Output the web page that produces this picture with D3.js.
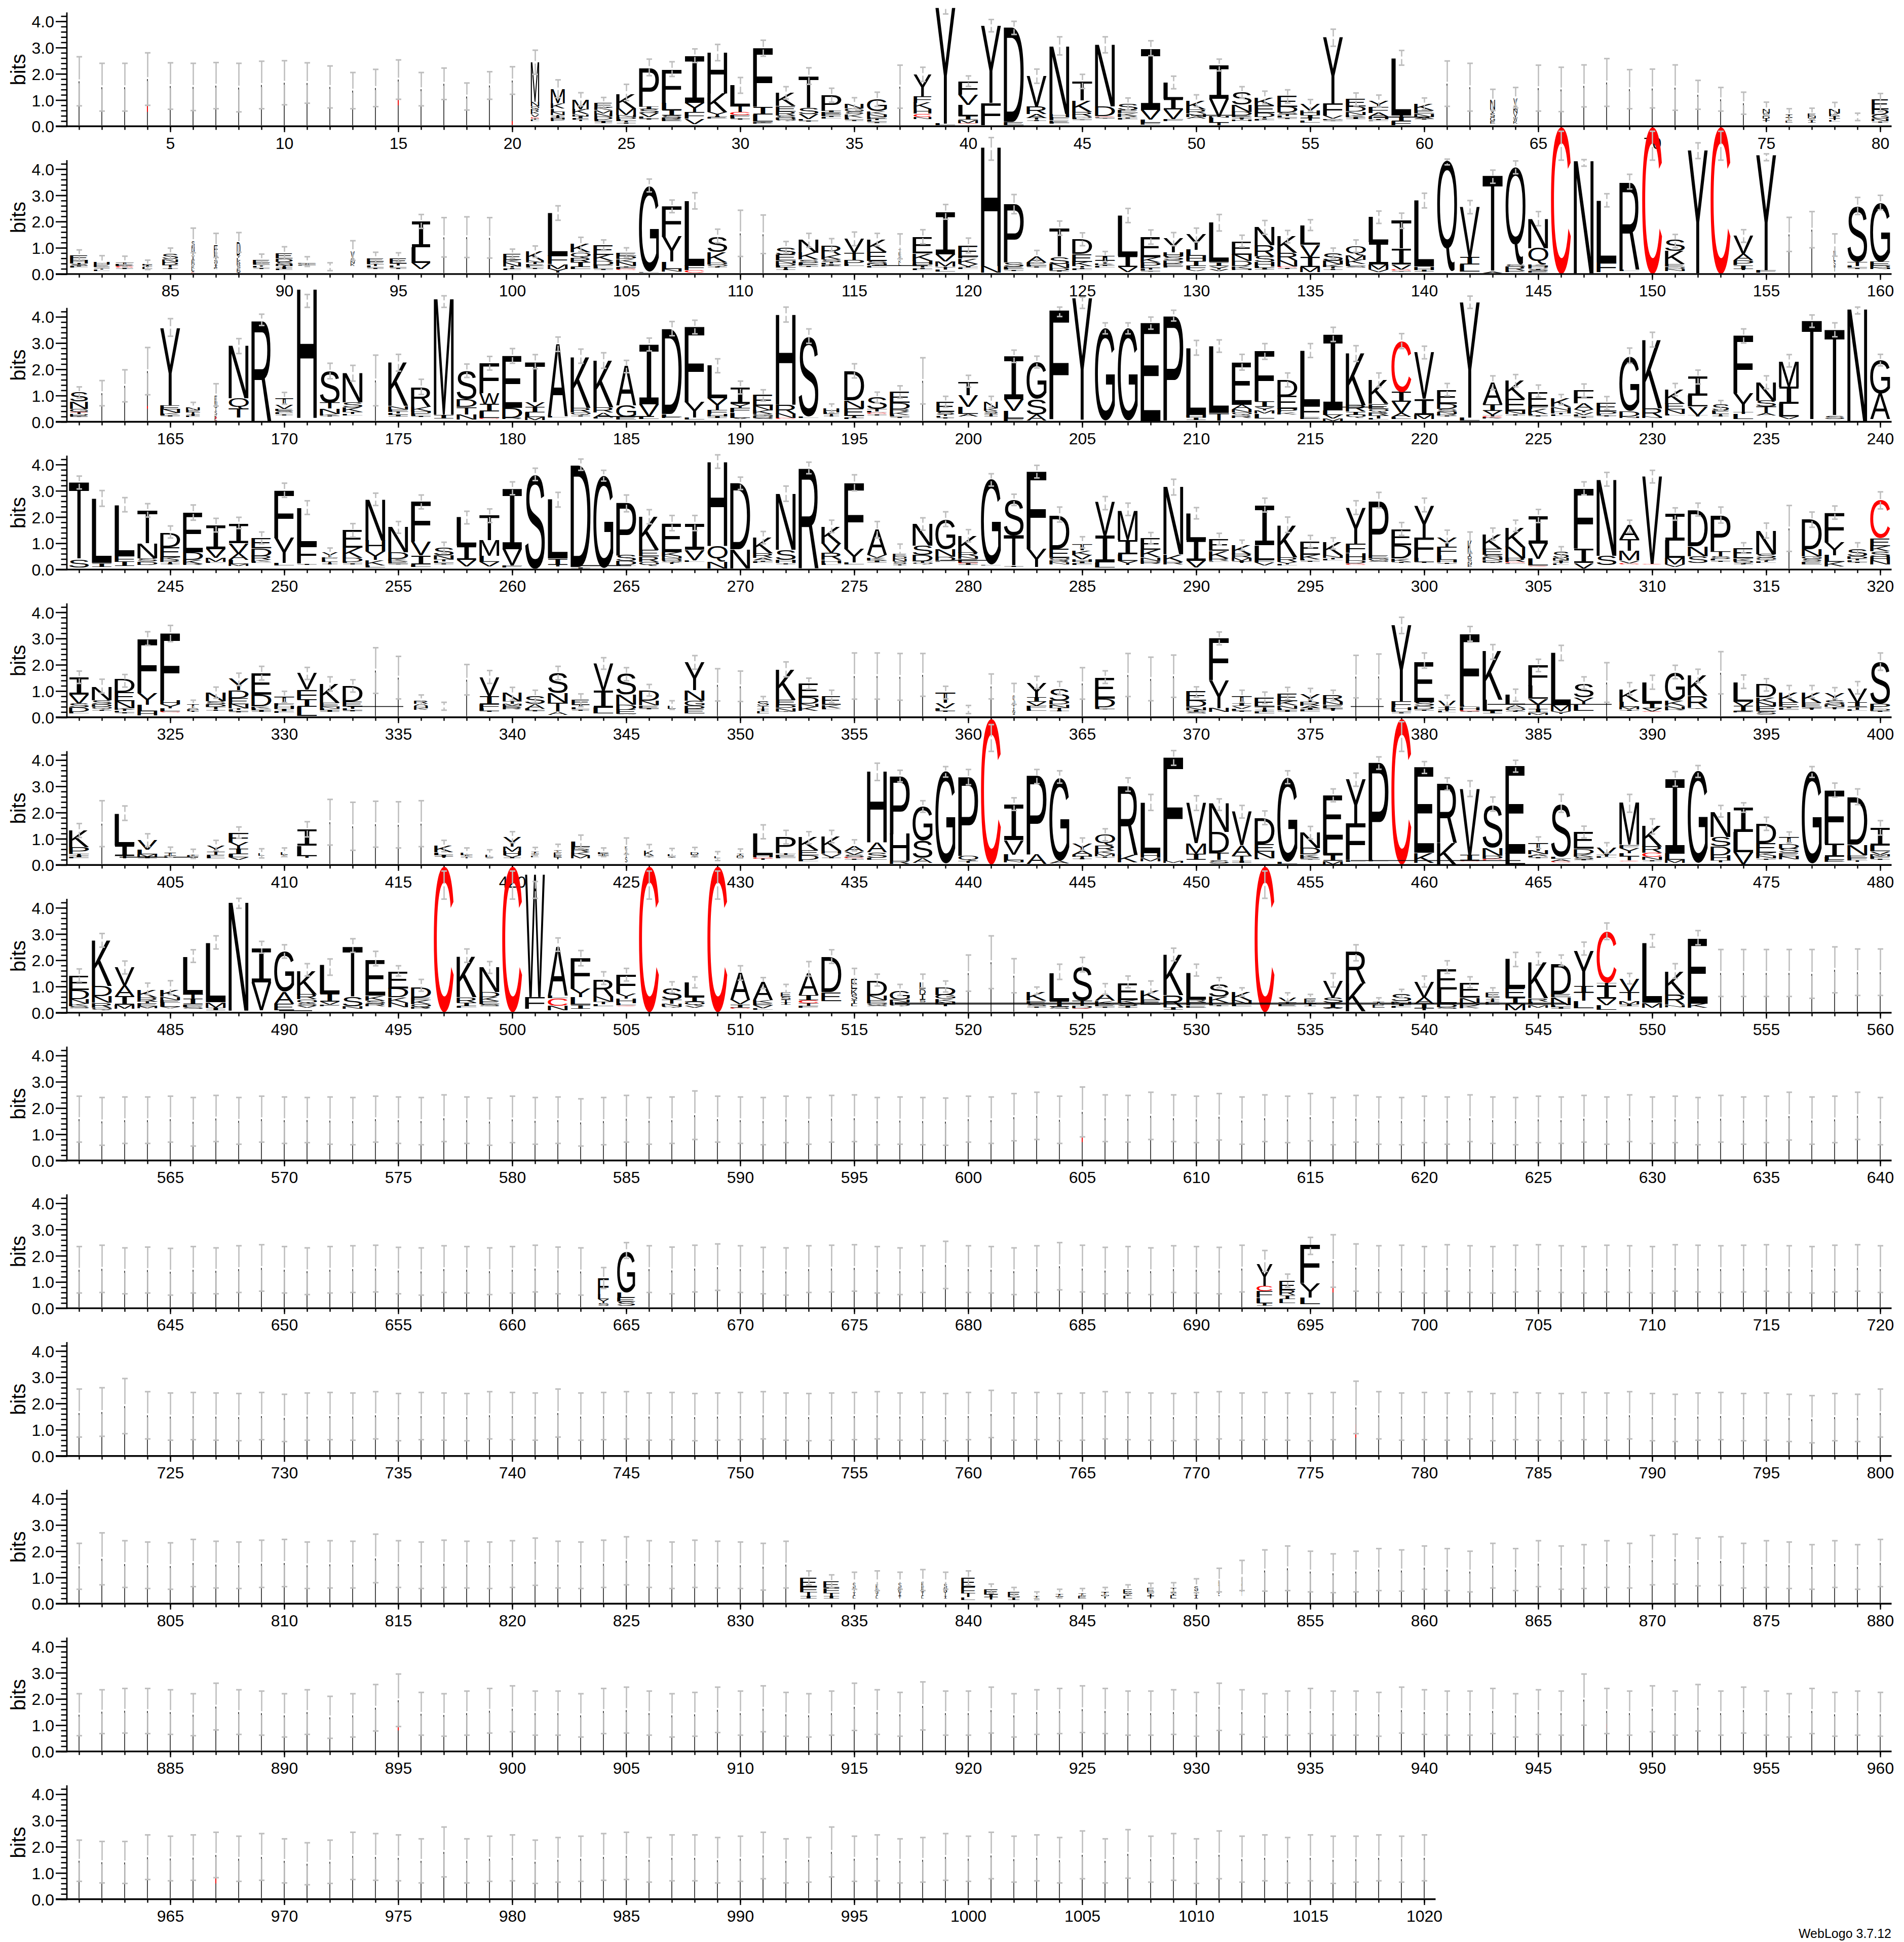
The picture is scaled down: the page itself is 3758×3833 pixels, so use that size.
<!DOCTYPE html>
<html><head><meta charset="utf-8">
<style>html,body{margin:0;padding:0;background:#fff}svg{display:block}</style>
<script src="https://cdn.jsdelivr.net/npm/d3@7"></script>
</head><body><div id="chart"></div>
<script>
// Columns: [position, errorLow, errorHigh, "letters bottom to top with bits", widthFraction]
// "_" is the hidden part of a stack (tiny letters that do not show).
const thinA = [[1,.78,2.65],[2,.58,2.4],[3,.58,2.4],[4,.8,2.8],[5,.65,2.42],[6,.6,2.4],[7,.67,2.43],[8,.55,2.4],[9,.67,2.48],[10,.82,2.5],[11,.88,2.42],[12,.7,2.3],[13,.67,2.05],[14,.75,2.17],[15,1.03,2.53],[16,.78,2.05],[17,1.02,2.22],[18,.62,1.65],[19,1.03,2.08],[20,1.22,2.27],
[37,.69,2.33],[61,.76,2.49],[62,.58,2.4],[65,.58,2.33],[66,.56,2.25],[67,.74,2.34],[68,.76,2.58],[69,.67,2.16],[70,.7,2.18],[71,.61,2.34],[72,.65,1.75],[73,.58,1.48],[74,.46,1.3],
[97,.65,2.15],[98,.63,2.18],[99,.61,2.15],[110,.67,2.43],[111,.78,2.25],[156,.86,2.16],[157,1,2.38],[162,.61,1.57],[163,.76,1.98],[164,1.03,2.83],[174,.61,2.54],[198,.68,2.44],[316,.69,2.44],
[334,.91,2.65],[335,.7,2.32],[338,.85,2.01],[349,.62,1.85],[350,.6,1.76],[355,.69,2.45],[356,.69,2.45],[357,.65,2.43],[358,.8,2.43],[361,.7,1.65],[365,.69,1.89],[367,.79,2.43],[368,.63,2.29],[369,.76,2.37],[377,.74,2.36],[378,.7,2.41],[388,.57,2.08],[393,.89,2.5],
[402,.7,2.45],[412,.76,2.5],[413,.56,2.39],[414,.68,2.43],[415,.65,2.41],[416,.7,2.45],[520,.82,2.2],[521,.92,2.93],[522,.76,2.06]];

const row1Cols = [
[21,1.98,2.9,"_.2 L.05 I.05 C.06 V.1 K.1 R.1 Q.1 N.18 M1.5",.42],
[22,1.09,1.77,"_.2 F.06 H.06 I.06 T.05 N.12 L.13 K.2 M.55",.7],
[23,.78,1.28,"_.2 T.05 L.05 I.08 N.08 K.19 M.38",.82],
[24,.7,1.1,"_.13 I.06 L.06 D.12 N.12 M.13 K.1 E.18",.91],
[25,.98,1.6,"_.1 I.05 T.05 L.08 D.08 N.08 M.24 K.54",1],
[26,1.93,2.56,"_.25 I.04 L.07 V.15 S.15 I.1 P1.47",1],
[27,1.9,2.46,"_.2 E.06 R.06 S.1 I.2 L.28 F1.27",1],
[28,2.43,2.95,"_.09 V.2 F.25 Y.35 I1.78",1],
[29,2.5,3.12,"_.3 E.05 I.05 Y.14 K.72 H1.55",1],
[30,1.26,1.86,"_.25 I.05 L.05 F.07 C.12 T.23 L.78",1],
[31,2.67,3.28,"_.1 E.05 I.03 L.27 I.28 F2.23",1],
[32,1.04,1.51,"_.2 Q.05 D.07 S.1 R.15 E.2 K.5",1],
[33,1.6,2.23,"_.18 I.04 L.05 V.2 S.22 T1.2",1],
[34,.92,1.45,"_.3 L.05 I.05 F.06 E.06 I.07 P.6",1],
[35,.67,1.09,"_.2 I.05 L.08 K.13 S.1 G.12 N.17",.95],
[36,.76,1.3,"_.13 I.04 L.06 T.05 E.07 N.1 K.12 G.46",1],
[38,1.71,2.25,"_.27 N.08 C.13 H.18 K.24 F.24 Y.84",.9],
[39,4.28,4.76,"_.04 L.06 Y4.42",1],
[40,1.52,1.92,"_.1 C.02 M.13 I.15 L.42 V.39 F.5",1],
[41,3.6,4.07,"_.04 F.85 Y2.95",1],
[42,3.5,4,"_.05 E.12 D3.6",1],
[43,1.64,2.18,"_.2 I.05 T.07 A.14 R.3 V1.16",1],
[44,2.72,3.41,"_.1 L.05 E.08 F.12 H.12 N2.58",1],
[45,1.44,1.98,"_.24 I.03 L.05 D.05 R.18 K.43 T.73",1],
[46,2.8,3.41,"_.3 I.03 L.03 C.03 D.36 N2.35",1],
[47,.63,1.08,"_.25 L.05 I.05 R.05 K.1 E.12 S.23",1],
[48,2.69,3.26,"_.07 F.08 L.11 V.37 I2.32",1],
[49,1.43,1.91,"_.2 F.08 V.37 I.4 L.61",1],
[50,.74,1.2,"_.3 A.06 N.13 R.15 K.32",1],
[51,2.11,2.56,"_.05 T.09 L.2 N.04 V.67 I1.28",1],
[52,1.07,1.51,"_.2 H.05 T.05 I.05 E.06 D.14 N.28 S.48",1],
[53,.85,1.34,"_.22 L.04 I.05 T.05 D.14 E.3 K.3",1],
[54,.89,1.39,"_.28 I.05 L.06 T.06 S.08 D.21 E.42",1],
[55,.56,1.02,"_.14 L.08 T.1 I.12 H.16 V.24",1],
[56,3.05,3.7,"_.2 I.03 L.03 D.03 V.13 F.46 Y2.51",1],
[57,.78,1.27,"_.28 I.07 K.08 N.13 D.2 E.29",1],
[58,.74,1.19,"_.2 L.03 I.04 H.1 A.14 F.21 Y.25",1],
[59,2.33,2.89,"_.05 F.15 I.17 T.05 L2.18",1],
[60,.63,1.08,"_.25 I.05 A.05 N.13 E.13 K.25",1],
[63,.6,1.41,"_.1 E.1 G.15 S.15 V.15 N.38",.24],
[64,.7,1.48,"_.1 K.1 W.15 V.15 N.15 I.15 V.28",.2],
[75,.42,.92,"_.15 T.06 I.08 D.1 S.1 N.18",.35],
[76,.22,.67,"_.15 L.08 T.1 I.12",.35],
[77,.26,.69,"_.15 I.08 T.08 N.08 E.1",.4],
[78,.42,.91,"_.18 L.05 T.06 I.1 K.1 N.18",.55],
[79,.22,.5,"_.36",.2],
[80,.56,1.25,"_.15 I.05 N.1 G.15 D.2 E.4",.85]];

const row2Cols = [
[81,.5,.92,"_.25 L.04 I.04 S.04 T.04 H.11 E.2",.9],
[82,.23,.7,"_.12 L.05 T.05 I.04 E.1 H.1",.8],
[83,.27,.68,"_.2 I.05 C.05 E.07 T.08",.9],
[84,.17,.53,"_.2 L.06 I.06 F.04",.5],
[85,.56,.99,"_.2 I.04 T.1 D.1 L.03 N.1 S.2",.8],
[86,.81,1.75,"_.02 C.05 I.05 L.1 K.1 D.1 E.1 A.1 V.1 T.14 N.2 S.2",.15],
[87,.63,1.55,"_.2 K.05 I.1 V.1 S.1 T.1 E.15 F.3",.18],
[88,.83,1.58,"I.06 D.06 E.1 S.1 R.1 K.1 L.1 Y.1 D.49",.18],
[89,.35,.76,"_.2 I.04 L.05 T.07 F.07 E.13",.85],
[90,.56,1.04,"_.15 L.04 I.06 T.06 N.06 S.1 D.12 E.2",.85],
[91,.29,.66,"_.32 L.03 I.03 T.03 E.03",.9],
[92,.13,.43,"_.27",.1],
[93,.52,1.27,"_.3 K.1 N.1 S.1 V.26",.2],
[94,.43,.83,"_.2 I.05 L.06 T.07 F.1 E.13",.85],
[95,.45,.81,"_.2 I.05 L.08 T.08 E.19",.85],
[96,1.74,2.27,"_.2 V.22 L.6 I.98",.95],
[100,.59,.95,"_.15 L.04 I.05 T.05 N.15 K.1 E.22",.9],
[101,.63,1.07,"_.2 I.05 L.05 E.08 T.06 N.07 K.34",.9],
[102,2.05,2.6,"_.05 Y.15 M.18 F.32 L1.62",1],
[103,.86,1.4,"_.2 L.07 I.18 R.17 Q.2 K.33",1],
[104,.9,1.3,"_.16 I.05 L.07 F.07 D.15 K.24 E.36",1],
[105,.63,1,"_.15 C.04 F.06 I.05 N.15 K.12 D.12 E.12",1],
[106,3.13,3.62,"_.05 L.03 G3.25",1],
[107,2.34,2.82,"_.1 N.1 L.28 Y.95 F1.16",1],
[108,2.48,3.1,"_.05 C.1 F.16 L2.46",1],
[109,1.19,1.71,"_.25 I.05 Q.07 D.07 K.4 S.6",1],
[112,.79,1.24,"_.15 I.04 T.06 L.06 D.1 N.1 E.22 S.27",1],
[113,1.02,1.55,"_.27 I.05 E.05 L.06 S.12 K.26 N.5",1],
[114,.86,1.35,"_.28 E.04 I.04 L.05 T.05 S.1 K.18 R.36",1],
[115,1.08,1.6,"_.3 L.07 P.16 T.27 V.53",1],
[116,1.08,1.55,"_.25 L.05 I.05 N.05 S.1 E.34 K.47",1],
[117,.58,1.53,"_.3 C.03 L.1 K.1 V.1 S.1 E.1 T.11",.12],
[118,1.15,1.69,"_.15 L.05 I.05 T.05 F.06 H.14 K.28 E.62",1],
[119,2.09,2.65,"_.1 L.08 T.1 M.2 V.28 I1.6",1],
[120,.81,1.37,"_.2 L.04 I.05 V.1 K.2 F.07 E.42",1],
[121,4.34,5.2,"_.05 N.25 H4.53",1],
[122,2.3,3.03,"_.12 I.05 L.05 E.06 S.16 P2.23",1],
[123,.45,.9,"_.25 I.04 L.04 E.12 A.23",1],
[124,1.48,2.02,"_.1 I.04 D.09 N.16 S.26 T1.08",1],
[125,1.08,1.57,"_.15 L.05 I.05 T.05 K.17 E.3 D.56",1],
[126,.47,.86,"_.25 L.05 I.05 K.05 T.12 I.16",1],
[127,1.96,2.5,"_.07 V.2 I.42 L1.54",1],
[128,1.14,1.68,"_.1 I.03 L.04 T.05 F.05 P.17 K.2 E.76",1],
[129,1.08,1.58,"_.25 F.05 E.1 D.13 S.15 H.14 Y.53",1],
[130,1.22,1.75,"_.12 V.05 F.14 I.19 H.19 L.24 Y.58",1],
[131,1.64,2.27,"_.12 V.06 Y.13 I.15 L1.5",1],
[132,1.03,1.48,"_.15 H.05 K.1 D.2 N.24 E.5",1],
[133,1.51,2.04,"_.17 I.06 L.06 H.16 S.22 R.42 N.69",1],
[134,1.19,1.66,"_.2 I.05 C.04 N.23 R.29 K.63",1],
[135,1.66,2.07,"_.07 M.2 I.37 V.47 L.74",1],
[136,.58,.99,"_.15 I.05 T.06 K.1 N.14 S.31",1],
[137,.83,1.3,"_.25 S.05 L.08 K.16 M.18 Q.36",1],
[138,1.93,2.4,"_.07 V.1 M.2 I.85 L.96",1],
[139,1.74,2.32,"_.1 I.03 C.05 V.18 I.6 T1.07",1],
[140,2.52,3.08,"_.1 I.06 H.12 L2.53",1],
[141,4.16,4.38,"_.1 Q4.2",1],
[142,2.3,2.8,"_.1 L.27 I.28 V1.91",1],
[143,3.46,3.96,"_.03 A.05 T3.67",1],
[144,3.82,4.31,"_.08 E.05 R.14 S.1 Q3.7",1],
[145,1.84,2.38,"_.06 E.05 S.05 I.05 D.05 H.05 K.05 Q.62 N1.12",1],
[146,4.34,5.44,"C5.6",1],
[147,4.11,4.36,"_.03 N4.28",1],
[148,2.56,3.06,"_.07 F.38 L2.35",1],
[149,3.24,3.8,"_.12 L.05 R3.35",1],
[150,4.34,5.44,"C5.6",1],
[151,1,1.51,"_.12 N.08 D.08 E.1 K.5 S.43",1],
[152,4.4,5,"_.03 Y4.69",1],
[153,4.34,5.44,"C5.6",1],
[154,1.21,1.69,"_.15 T.05 I.14 P.18 A.25 V.68",1],
[155,4.32,4.58,"_.05 F.1 Y4.39",1],
[158,.68,1.53,"_.1 T.2 S.2 L.2 N.2",.1],
[159,2.27,2.92,"_.2 I.05 L.06 T.15 S2.13",1],
[160,2.45,3,"_.2 N.04 D.08 E.15 G2.25",1]];

const row3Cols = [
[161,.9,1.33,"_.18 I.03 E.04 D.05 T.06 C.02 G.12 N.27 S.36",.9],
[165,3.26,3.93,"_.2 I.04 L.04 K.05 N.14 E.15 Y2.95",1],
[166,.4,.74,"_.18 L.05 I.06 T.06 E.09 N.11",.7],
[167,.6,1.45,"_.02 C.03 L.1 K.1 S.15 T.15 N.2 E.25",.12],
[168,2.6,3.17,"_.15 T.34 Q.41 N2.0",1],
[169,3.67,4.1,"_.01 R3.88",1],
[170,.67,1.12,"_.25 I.05 L.05 S.06 E.08 V.15 T.25",.9],
[171,4.36,4.85,"_.15 H4.9",1],
[172,1.64,2.23,"_.2 I.05 K.05 N.2 T.23 S1.2",1],
[173,1.55,2.15,"_.25 L.05 T.07 K.17 S.2 N1.11",1],
[175,1.93,2.57,"_.2 I.06 L.06 T.06 F.1 N.12 K1.65",1],
[176,1.04,1.62,"_.18 I.05 L.05 E.05 H.06 K.18 R.76",1],
[177,4.36,4.8,"_.12 I.15 M4.41",1],
[178,1.69,2.2,"_.08 N.2 T.28 D.3 S1.07",1],
[179,1.97,2.49,"_.1 C.04 L.25 I.28 W.42 F1.13",1],
[180,2.23,2.79,"_.1 R.04 D.4 E1.98",1],
[181,2.02,2.56,"_.07 M.12 L.17 I.2 V.18 T1.53",1],
[182,2.68,3.23,"_.16 L.05 A2.74",1],
[183,2.23,2.77,"_.2 I.05 Q.1 R.18 K1.92",1],
[184,2.04,2.63,"_.12 L.05 A.18 R.2 K1.78",1],
[185,1.87,2.34,"_.08 E.1 G.45 A1.5",1],
[186,2.7,3.19,"_.1 L.1 V.47 I2.28",1],
[187,3.28,3.82,"_.15 E.04 L.1 D3.24",1],
[188,3.35,3.87,"_.08 L.08 Y.58 F2.86",1],
[189,1.87,2.4,"_.14 I.06 H.1 F.15 Y.45 L1.25",1],
[190,1.06,1.55,"_.1 V.05 L.2 F.18 Y.15 I.62",1],
[191,.79,1.22,"_.1 S.05 D.08 G.07 K.14 N.17 E.42",1],
[192,3.8,4.37,"_.1 C.04 N.16 R.35 H3.43",1],
[193,2.99,3.54,"_.15 L.05 S3.06",1],
[194,.35,.68,"_.2 I.05 T.05 L.06 H.14",.8],
[195,1.67,2.21,"_.1 L.04 I.04 T.04 E.3 N.3 D1.11",1],
[196,.72,1.13,"_.25 I.05 C.05 L.04 T.1 S.45",1],
[197,.9,1.37,"_.15 I.05 L.06 K.12 R.1 D.24 E.42",1],
[199,.55,.97,"_.12 I.05 L.05 T.05 S.1 E.4",.9],
[200,1.32,1.77,"_.2 A.1 L.27 V.43 T.51",1],
[201,.54,.97,"_.2 I.06 T.05 S.1 K.1 N.25",.7],
[202,2.26,2.73,"_.02 F.1 L.3 V.43 I1.64",1],
[203,2.05,2.5,"_.05 A.23 S.6 G1.4",1],
[204,4.01,4.37,"_.1 F4.15",1],
[205,4.32,4.75,"_.08 Y4.64",1],
[206,3.35,3.77,"_.05 G3.52",1],
[207,3.35,3.77,"_.05 G3.52",1],
[208,3.53,3.99,"_.03 E3.74",1],
[209,3.84,4.25,"_.05 P3.97",1],
[210,2.54,3.1,"_.07 I.1 H.1 L2.54",1],
[211,2.65,3.12,"_.05 T.28 L2.55",1],
[212,1.97,2.57,"_.15 R.1 Q.1 N.13 A.17 E1.6",1],
[213,2.38,2.98,"_.13 L.18 M.12 Y.13 I.22 F1.9",1],
[214,1.33,1.86,"_.28 K.08 P.14 E.48 D.62",1],
[215,2.45,2.98,"_.1 E.06 F.47 L2.07",1],
[216,3.06,3.6,"_.03 M.1 V.14 L.16 I2.88",1],
[217,2.3,2.9,"_.15 Q.12 I.12 R.24 K1.97",1],
[218,1.33,1.86,"_.08 L.05 T.12 R.12 Q.13 E.18 K.92",1],
[219,2.79,3.36,"_.1 L.08 A.15 V.43 I.37 C1.93",1],
[220,2.4,2.88,"_.1 M.17 I.6 V1.77",1],
[221,.99,1.46,"_.2 I.05 R.05 N.07 S.12 D.2 E.52",1],
[222,4.32,4.79,"_.05 L.11 Y4.4",1],
[223,1.22,1.75,"_.12 K.05 C.04 T.05 V.16 I.25 A.83",1],
[224,1.33,1.8,"_.25 I.05 N.12 E.46 K.68",1],
[225,.94,1.4,"_.2 I.04 L.05 K.2 F.1 E.55",1],
[226,.65,1.04,"_.22 L.05 T.05 H.11 N.13 K.32",1],
[227,.94,1.44,"_.15 I.05 L.06 V.1 Y.12 A.22 F.5",1],
[228,.47,.96,"_.2 I.05 L.05 D.1 E.31",1],
[229,2.23,2.81,"_.15 N.05 D.2 G2.07",1],
[230,2.85,3.41,"_.15 N.04 R.33 K2.6",1],
[231,.99,1.46,"_.25 L.05 N.17 E.21 K.54",1],
[232,1.44,1.97,"_.2 T.05 V.33 L.42 I.73",1],
[233,.43,.81,"_.2 I.04 T.05 L.07 F.08 S.23",.85],
[234,3,3.54,"_.1 L.2 T.08 Y.72 F2.2",1],
[235,1.26,1.75,"_.24 A.1 T.24 S.23 N.7",1],
[236,2.09,2.56,"_.1 V.1 L.48 I.65 M.97",1],
[237,3.6,4.07,"_.05 T3.8",1],
[238,3.24,3.77,"_.1 S.12 T3.29",1],
[239,4.11,4.37,"_.03 N4.26",1],
[240,2.13,2.57,"_.1 A.98 G1.26",1]];

const row4Cols = [
[241,3.07,3.56,"_.08 S.3 T2.94",1],
[242,2.41,3.01,"_.1 I.15 L2.44",1],
[243,2.2,2.74,"_.13 I.17 F.22 L1.94",1],
[244,2,2.51,"_.18 D.12 S.12 N.57 T1.25",1],
[245,1.2,1.66,"_.2 I.04 T.05 R.07 K.1 E.4 D.55",1],
[246,1.88,2.46,"_.18 R.04 K.14 D.3 E1.51",1],
[247,1.43,1.95,"_.25 L.05 M.14 V.34 I.9",1],
[248,1.56,1.99,"_.14 M.08 L.14 A.24 V.4 I.74",1],
[249,.98,1.43,"_.25 L.05 K.07 R.14 D.3 E.4",1],
[250,2.75,3.29,"_.15 L.1 Y.95 F1.8",1],
[251,2.1,2.62,"_.18 I.05 F.7 L1.4",1],
[252,.44,.82,"_.2 I.04 T.05 L.07 F.1 Y.2",.8],
[253,1.23,1.75,"_.2 I.05 L.05 D.14 K.4 E.66",1],
[254,2.44,2.91,"_.08 L.08 K.2 Y.33 H.42 N1.56",1],
[255,1.38,1.83,"_.2 I.03 E.08 K.1 D.25 N.97",1],
[256,2.31,2.84,"_.1 L.1 I.34 V.52 F1.52",1],
[257,.62,1.04,"_.2 I.05 L.06 T.08 N.15 S.3",1],
[258,1.74,2.22,"_.12 V.24 I.55 L1.08",1],
[259,1.79,2.31,"_.12 V.18 L.22 M.58 T.96",1],
[260,2.85,3.34,"_.07 F.08 V.63 I2.3",1],
[261,3.39,3.86,"_.03 S3.62",1],
[262,2.38,2.94,"_.12 T.06 I.24 L2.25",1],
[263,3.78,4.21,"_.05 I.05 D3.87",1],
[264,3.37,3.78,"_.05 G3.5",1],
[265,2.2,2.84,"_.13 L.05 D.15 S.22 P2.0",1],
[266,1.74,2.28,"_.15 Q.15 R.2 E.25 K1.27",1],
[267,1.48,2.06,"_.22 T.05 Q.08 D.08 N.08 K.15 E1.08",1],
[268,1.48,2.06,"_.3 L.05 V.4 I1.0",1],
[269,3.86,4.37,"_.05 N.25 Q.6 H3.19",1],
[270,3.05,3.52,"_.05 N.72 D2.52",1],
[271,.98,1.45,"_.25 L.04 I.05 A.1 R.18 K.58",1],
[272,2.6,3.18,"_.2 I.05 H.12 S.38 N2.12",1],
[273,3.65,4.09,"_.05 R3.85",1],
[274,1.41,1.88,"_.18 L.05 H.13 R.27 V.36 K.65",1],
[275,3,3.61,"_.2 L.08 Y.52 F2.5",1],
[276,1.2,1.83,"_.28 I.06 K.1 V.12 A.96",1],
[277,.48,.97,"_.16 I.05 S.1 N.1 D.1 E.1",.7],
[278,1.5,1.97,"_.2 Q.05 T.06 D.24 S.36 N.83",1],
[279,1.64,2.2,"_.3 L.03 D.15 N.3 G1.12",1],
[280,1.05,1.52,"_.18 I.06 C.04 E.12 N.1 R.14 K.63",1],
[281,3.18,3.65,"_.15 L.03 G3.25",1],
[282,2.44,2.87,"_.1 I.05 T1.14 S1.36",1],
[283,3.49,3.97,"_.1 Y.68 F2.95",1],
[284,1.81,2.38,"_.2 N.07 R.08 Q.1 E.35 D1.27",1],
[285,.82,1.25,"_.18 L.05 I.07 H.09 V.16 K.18 T.22",1],
[286,2.28,2.78,"_.08 L.2 I1.02 V1.28",1],
[287,2.06,2.53,"_.18 Y.15 L.25 I.55 M1.11",1],
[288,.97,1.41,"_.22 R.04 D.07 N.13 K.3 E.45",1],
[289,2.84,3.44,"_.2 R.1 K.28 N2.58",1],
[290,1.93,2.36,"_.07 V.26 I.8 L1.02",1],
[291,.94,1.38,"_.3 L.03 R.1 K.28 E.45",1],
[292,.73,1.12,"_.25 T.04 I.04 M.11 R.15 K.35",1],
[293,2.19,2.72,"_.15 V.12 F.1 L.55 I1.52",1],
[294,1.41,2,"_.15 L.04 Y.1 R.18 K1.21",1],
[295,.84,1.3,"_.3 I.04 L.05 K.18 E.5",1],
[296,.78,1.21,"_.35 L.04 T.05 N.1 K.48",1],
[297,2.1,2.62,"_.18 C.05 D.12 H.28 F.35 Y1.35",1],
[298,2.35,2.94,"_.3 S.05 G.08 E.12 P2.05",1],
[299,1.3,1.79,"_.25 I.05 K.12 D.5 E.6",1],
[300,2.2,2.72,"_.25 I.05 L.15 F.77 Y1.22",1],
[301,1.02,1.5,"_.22 I.05 H.1 L.18 F.33 Y.35",1],
[302,.62,1.43,"_.1 E.1 N.1 S.1 D.1 I.1 K.49",.2],
[303,1.12,1.58,"_.25 I.03 D.08 N.1 S.1 E.22 K.56",1],
[304,1.45,1.88,"_.22 L.03 C.04 R.14 N.43 K.73",1],
[305,1.79,2.29,"_.12 C.03 L.26 V.58 I1.03",1],
[306,.44,.87,"_.18 L.05 T.05 I.06 N.1 S.23",.8],
[307,2.85,3.34,"_.05 V.2 I.55 F2.28",1],
[308,3.18,3.7,"_.17 S.36 N2.9",1],
[309,1.41,1.88,"_.2 C.04 V.1 M.36 T.46 A.54",1],
[310,3.3,3.78,"_.19 C.02 V3.33",1],
[311,1.88,2.35,"_.1 V.1 M.24 L.67 I1.02",1],
[312,2.04,2.53,"_.25 S.26 N.38 D1.37",1],
[313,1.77,2.38,"_.3 I.05 L.05 S.1 T.2 P1.37",1],
[314,.62,1.02,"_.2 I.04 Q.08 K.1 E.4",1],
[315,1.2,1.77,"_.25 L.04 T.05 Q.1 S.15 N.88",1],
[317,1.61,2.19,"_.2 E.1 S.1 G.1 N.27 D1.13",1],
[318,1.92,2.42,"_.12 K.17 L.26 Y.49 F1.12",1],
[319,.55,1.02,"_.25 I.05 L.05 T.05 D.1 S.28",1],
[320,2.31,2.96,"_.19 N.15 H.15 S.2 K.2 E.3 C1.45",1]];

const row5Cols = [
[321,1.29,1.76,"_.15 L.05 D.17 S.15 V.35 I.65",1],
[322,.92,1.45,"_.25 I.05 Q.1 D.1 S.15 N.5",1],
[323,1.15,1.63,"_.15 I.04 L.05 T.05 K.06 N.26 E.34 D.48",1],
[324,2.74,3.26,"_.08 H.15 L.25 Y.45 F2.05",1],
[325,2.88,3.5,"_.18 C.05 L.12 Y.15 H.15 F2.55",1],
[326,.33,.65,"_.2 I.04 L.05 S.05 T.15",.6],
[327,.72,1.15,"_.25 I.05 T.1 D.1 S.12 N.32",1],
[328,1.21,1.68,"_.18 I.05 L.06 T.05 N.16 E.23 D.3 Y.44",1],
[329,1.42,1.94,"_.2 I.06 L.07 K.08 D.45 E.81",1],
[330,.56,.99,"_.17 L.05 I.1 H.12 F.1 T.24",1],
[331,1.44,1.9,"_.05 L.34 I.28 F.38 V.65",1],
[332,1,1.54,"_.2 I.06 L.07 N.07 E.15 K.72",1],
[333,.96,1.43,"_.22 I.04 L.06 T.1 E.18 D.58",1],
[336,.49,.85,"_.28 K.06 H.1 A.08 R.13",.7],
[337,.27,.57,"_.42",.1],
[339,1.29,1.78,"_.2 I.05 L.1 F.15 I.3 V.72",1],
[340,.65,1.14,"_.3 R.08 E.06 M.08 T.1 N.32",.95],
[341,.56,1.03,"_.22 I.05 L.06 A.18 S.3",1],
[342,1.43,1.94,"_.1 A.13 T.32 N.38 S.78",1],
[343,.4,.89,"_.25 I.05 L.07 T.1 E.2",.9],
[344,1.83,2.27,"_.15 L.22 I.65 V1.04",1],
[345,1.39,1.89,"_.1 A.02 E.17 D.19 N.4 S.79",1],
[346,.81,1.25,"_.3 I.05 E.1 N.18 D.4",1],
[347,.3,.63,"_.33 L.13",.4],
[348,1.83,2.35,"_.15 E.17 D.12 G.2 N.4 Y1.06",1],
[351,.45,.79,"_.15 L.08 I.1 T.1 S.19",.6],
[352,1.54,2.11,"_.2 I.03 N.13 D.12 E.19 K1.14",1],
[353,1.07,1.49,"_.25 K.14 N.12 D.25 E.51",1],
[354,.56,1.03,"_.3 L.05 K.13 E.32",.95],
[359,.7,1.18,"_.2 I.05 L.1 V.2 T.39",1],
[360,.14,.45,"_.3",.1],
[362,.49,1.29,"_.1 A.05 N.1 I.1 T.1 S.4",.12],
[363,1.1,1.56,"_.25 L.07 F.12 V.15 I.16 Y.57",1],
[364,.85,1.36,"_.22 I.05 T.1 N.12 D.14 S.47",1],
[366,1.29,1.77,"_.3 I.03 L.05 D.33 E.79",1],
[370,.76,1.16,"_.15 S.05 I.07 N.12 D.24 E.36",1],
[371,2.76,3.25,"_.2 N.15 Y1.05 F1.6",1],
[372,.57,1.03,"_.2 I.05 L.08 V.1 I.1 T.28",1],
[373,.52,.96,"_.15 L.06 I.08 T.1 E.35",1],
[374,.67,1.14,"_.2 I.06 L.06 N.13 K.17 E.3",1],
[375,.67,1.1,"_.22 L.06 I.06 A.1 R.15 Y.3",1],
[376,.63,1.03,"_.25 T.05 I.05 E.12 N.13 R.25",1],
[379,3.19,3.81,"_.15 I.05 L.07 H.11 F.22 Y2.92",1],
[380,1.87,2.45,"_.25 I.05 D.13 S.15 E1.54",1],
[381,.45,.84,"_.18 L.05 T.05 I.1 V.25",.9],
[382,2.9,3.46,"_.2 I.02 C.05 H.12 L.08 F2.7",1],
[383,2.21,2.77,"_.15 I.1 L.42 K1.85",1],
[384,.61,1.07,"_.2 I.05 Q.1 A.13 L.4",1],
[385,1.74,2.21,"_.1 M.08 I.14 Y.38 L.5 F.8",1],
[386,2.16,2.74,"_.13 Y.1 M.22 L2.0",1],
[387,1.07,1.54,"_.25 L.25 Y.25 S.52",1],
[389,.85,1.32,"_.25 I.05 M.1 L.2 K.47",1],
[390,1.07,1.6,"_.2 C.03 V.12 I.19 L.78",1],
[391,1.47,1.98,"_.27 R.04 N.13 K.19 G1.07",1],
[392,1.32,1.83,"_.33 I.03 R.46 K.76",1],
[394,1.1,1.61,"_.18 E.04 I.2 V.17 L.75",1],
[395,1,1.47,"_.1 S.12 E.2 N.14 K.2 D.49",1],
[396,.74,1.21,"_.28 L.06 I.05 E.17 K.4",1],
[397,.74,1.21,"_.28 T.05 I.05 E.18 K.4",1],
[398,.7,1.13,"_.3 T.05 I.05 N.1 S.15 Y.27",1],
[399,.89,1.36,"_.25 L.04 T.1 I.17 V.53",1],
[400,1.79,2.45,"_.2 I.04 D.08 P.2 S1.6",1]];

const row6Cols = [
[401,1.05,1.58,"_.25 L.04 I.07 T.08 P.24 K.64",1],
[403,1.7,2.25,"_.25 T.1 I.38 L1.21",1],
[404,.7,1.19,"_.26 I.06 M.1 L.17 V.38",1],
[405,.3,.68,"_.28 L.04 T.04 I.12",.6],
[406,.25,.6,"_.32 L.04 I.04",.6],
[407,.54,.94,"_.25 L.06 F.08 T.12 Y.23",.9],
[408,1.02,1.45,"_.2 V.1 L.12 I.2 Y.24 F.37",1],
[409,.27,.62,"_.35 L.1",.3],
[410,.32,.65,"_.3 I.1 L.1",.35],
[411,1.07,1.65,"_.27 T.06 L.4 I.61",1],
[417,.51,.94,"_.28 T.04 I.06 L.1 K.25",.95],
[418,.32,.65,"_.25 T.05 I.08 L.1",.6],
[419,.27,.58,"_.25 I.05 L.1",.4],
[420,.85,1.27,"_.25 I.04 V.08 H.14 M.2 Y.36",.9],
[421,.36,.67,"_.3 L.05 T.06 I.1",.4],
[422,.45,.79,"_.22 T.07 E.08 L.1 I.1",.4],
[423,.63,1.14,"_.25 M.12 K.12 R.12 F.1 L.2",.95],
[424,.32,.65,"_.3 T.05 I.07 E.07",.55],
[425,.41,1.03,"_.1 S.2 T.15 I.15 K.12",.12],
[426,.34,.78,"_.3 I.05 K.2",.5],
[427,.32,.63,"_.28 I.06 L.08",.4],
[428,.34,.67,"_.3 I.1 D.1",.4],
[429,.17,.51,"_.25 L.08",.3],
[430,.27,.61,"_.28 D.07 I.07",.35],
[431,1,1.53,"_.2 T.04 C.05 H.09 L.85",1],
[432,.8,1.32,"_.25 L.05 E.1 T.05 P.62",1],
[433,.81,1.27,"_.15 L.04 D.18 E.2 K.48",1],
[434,.85,1.32,"_.25 I.05 V.13 H.12 K.53",1],
[435,.54,.96,"_.2 I.05 C.05 S.1 V.12 A.2",1],
[436,3.22,3.88,"_.2 L.08 S.2 A.38 H2.7",1],
[437,3.17,3.61,"_.04 R.12 H1.03 P2.2",1],
[438,2.01,2.45,"_.08 A.18 S.68 G1.29",1],
[439,3.35,3.75,"_.06 G3.5",1],
[440,3.06,3.64,"_.08 T.08 Q.2 P3.0",1],
[441,4.33,5.35,"_.02 C5.55",1],
[442,2.08,2.56,"_.1 N.08 L.22 V.55 I1.35",1],
[443,3.1,3.64,"_.05 A.36 P3.0",1],
[444,3.12,3.59,"_.06 A.1 G3.16",1],
[445,.56,1.03,"_.22 I.04 T.06 H.08 A.15 Y.26",1],
[446,.92,1.38,"_.28 I.05 M.1 K.12 R.2 Q.41",1],
[447,2.81,3.32,"_.1 K.3 R2.66",1],
[448,2.08,2.69,"_.15 M.13 H.17 L1.92",1],
[449,3.8,4.36,"_.08 M.08 F3.94",1],
[450,2.08,2.64,"_.2 I.24 M.4 V1.52",1],
[451,2.08,2.52,"_.07 S.12 T.27 D.8 N1.08",1],
[452,1.79,2.27,"_.08 I.08 T.2 A.4 V1.29",1],
[453,1.54,2.06,"_.22 L.04 N.24 E.3 D.99",1],
[454,3.1,3.59,"_.05 L.07 G3.2",1],
[455,.99,1.47,"_.2 I.03 E.05 K.13 D.24 N.58",1],
[456,2.41,2.9,"_.03 M.13 I.24 L.58 E1.68",1],
[457,3,3.5,"_.13 L.05 F1.4 Y1.67",1],
[458,3.65,4.12,"_.15 L.05 P3.7",1],
[459,4.33,5.46,"_.02 C5.55",1],
[460,3.49,3.94,"_.08 K.38 E3.26",1],
[461,2.85,3.32,"K.85 R2.29",1],
[462,2.61,3.21,"_.14 C.04 I.2 V2.52",1],
[463,2.05,2.59,"_.15 C.08 D.13 N.3 S1.62",1],
[464,3.54,3.99,"_.02 L.42 E3.35",1],
[465,.63,1.07,"_.25 I.04 L.05 A.07 N.14 T.3",1],
[466,2.01,2.69,"_.1 C.05 A.08 L.07 S2.0",1],
[467,1.03,1.48,"_.18 I.04 S.1 K.1 D.2 E.64",1],
[468,.45,.85,"_.28 L.04 T.06 V.3",1],
[469,2.01,2.69,"_.15 C.03 T.15 L.12 Y.2 F.12 M1.6",1],
[470,1.18,1.76,"_.15 I.05 N.12 C.14 R.24 K.8",1],
[471,3,3.56,"_.08 M.12 L.24 I2.84",1],
[472,3.34,3.79,"_.08 G3.51",1],
[473,1.83,2.27,"_.1 T.08 H.2 D.33 S.36 N.94",1],
[474,2.01,2.37,"_.03 V.46 L.77 I.92",1],
[475,1.32,1.82,"_.2 I.05 N.1 K.12 E.36 D.75",1],
[476,.85,1.26,"_.22 N.12 E.12 S.17 D.18 T.26",1],
[477,3.34,3.75,"_.06 G3.5",1],
[478,2.59,3.12,"_.12 E.07 L.13 I.5 F2.03",1],
[479,2.3,2.9,"_.13 T.05 F.1 E.1 N.4 D1.81",1],
[480,1.14,1.69,"_.2 I.04 F.1 M.06 V.12 L.22 I.69",1]];

const row7Cols = [
[481,1.18,1.67,"_.18 S.07 K.1 N.17 D.35 E.55",1],
[482,2.5,3.02,"_.1 Q.1 R.18 N.25 D.4 K1.72",1],
[483,1.48,1.97,"_.15 M.15 I.32 A.42 V.68",1],
[484,.69,1.13,"_.18 M.06 E.12 T.07 R.14 K.3",1],
[485,.69,1.22,"_.18 V.05 L.16 E.1 N.13 K.25",1],
[486,1.92,2.4,"_.15 S.07 F.1 I.2 T.2 L1.42",1],
[487,2.43,2.93,"_.1 I.1 M.2 L2.24",1],
[488,3.98,4.36,"_.08 N4.12",1],
[489,2.27,2.72,"_.1 V1.05 I1.31",1],
[490,2.08,2.59,"_.1 E.25 A.45 G1.52",1],
[491,1.4,1.87,"_.2 V.06 S.1 Q.15 R.19 K.9",1],
[492,1.43,2.05,"_.25 F.05 V.13 I.3 L1.09",1],
[493,2.3,2.82,"_.15 N.1 S.35 T1.91",1],
[494,1.79,2.34,"_.25 R.1 S.12 K.18 E1.36",1],
[495,1.4,1.79,"_.22 N.17 K.2 D.34 E.65",1],
[496,.82,1.27,"_.15 R.06 Q.12 K.15 E.1 D.4",1],
[497,4.33,5.4,"_.02 C5.55",1],
[498,1.92,2.43,"_.2 L.05 I.14 R.2 K1.52",1],
[499,1.5,1.95,"_.25 S.08 E.12 K.14 D.2 N.93",1],
[500,4.33,5.4,"_.02 C5.55",1],
[501,4.36,5,"_.15 F.45 W4.67",1],
[502,2.34,2.85,"_.1 N.17 C.28 L.1 A1.85",1],
[503,1.79,2.37,"_.15 I.15 L.3 Y.33 F1.15",1],
[504,1.08,1.56,"_.25 L.07 T.1 N.2 R.65",1],
[505,1.21,1.69,"_.25 C.03 L.08 H.17 Y.2 F.71",1],
[506,4.33,5.4,"_.02 C5.55",1],
[507,.76,1.18,"_.2 Q.05 N.1 T.14 S.43",1],
[508,.95,1.37,"_.2 V.08 Q.14 I.17 L.56",1],
[509,4.33,5.4,"_.02 C5.55",1],
[510,1.24,1.79,"_.15 C.05 I.12 V.17 A1.03",1],
[511,.92,1.34,"_.12 L.05 V.12 E.07 K.13 A.69",1],
[512,.76,1.08,"_.3 I.1 T.1 S.12 E.15",.5],
[513,1.4,1.95,"_.2 F.06 T.1 C.13 I.18 A.84",1],
[514,1.88,2.4,"_.45 E.33 D1.33",1],
[515,1.08,1.69,"_.25 L.1 I.15 S.2 K.2 E.4",.3],
[516,1.02,1.47,"_.25 S.05 Q.07 E.11 N.17 D.57",1],
[517,.66,1.08,"_.25 Q.05 E.1 N.1 G.32",1],
[518,.95,1.47,"_.4 S.1 I.2 D.2 L.25",.3],
[519,.79,1.21,"_.25 T.08 N.1 K.1 G.15 D.3",1],
[523,.7,.98,"_.2 I.05 S.08 E.13 K.33",1],
[524,1.27,1.85,"_.15 S.08 I.22 L1.05",1],
[525,1.56,2.11,"_.15 C.02 D.1 T.2 S1.29",1],
[526,.7,1.11,"_.2 I.05 E.08 K.13 A.27",1],
[527,.95,1.4,"_.2 I.06 S.1 K.13 E.64",1],
[528,.76,1.21,"_.3 E.2 K.34",1],
[529,1.98,2.46,"_.12 I.1 R.45 K1.54",1],
[530,1.4,1.85,"_.2 E.08 F.12 R.1 L1.0",1],
[531,.95,1.34,"_.25 I.04 F.1 K.22 S.5",1],
[532,.63,.95,"_.25 L.08 N.14 K.32",1],
[533,4.36,5.4,"_.02 C5.55",1],
[534,.44,.76,"_.25 E.08 T.08 V.16",.9],
[535,.41,.7,"_.25 I.1 E.2",.6],
[536,.98,1.5,"_.15 A.05 I.18 S.2 V.64",1],
[537,1.98,2.59,"_.06 K1.05 R1.23",1],
[538,.28,.57,"_.2 E.12 I.1",.6],
[539,.57,.89,"_.2 L.04 I.07 N.13 S.27",1],
[540,.98,1.4,"_.1 T.08 I.16 A.24 V.58",1],
[541,1.5,1.98,"_.15 S.07 D.13 L.54 E.76",1],
[542,.95,1.37,"_.18 K.09 D.1 N.2 E.56",1],
[543,.57,.95,"_.3 L.1 I.1 T.1 E.16",.7],
[544,1.76,2.3,"_.1 M.23 I.25 E.36 L1.1",1],
[545,1.82,2.3,"_.2 M.1 L.13 R.12 K1.37",1],
[546,1.79,2.2,"_.15 I.06 L.08 N.3 E.12 D1.14",1],
[547,2.2,2.69,"_.17 L.28 T.32 I.26 Y1.34",1],
[548,2.79,3.42,"_.12 L.16 V.25 I.5 T.1 C1.97",1],
[549,1.1,1.5,"_.25 I.08 M.12 T.33 V.5",1],
[550,2.5,2.98,"_.2 M.18 L2.28",1],
[551,1.31,1.87,"_.22 N.08 R.4 K.86",1],
[552,2.59,3.13,"_.2 K.15 E2.47",1]];

const lowCols = [
[664,.75,1.55,"_.1 S.1 Y.15 L.2 F.6",.55],
[665,1.9,2.5,"_.1 S.15 E.15 L.2 G1.55",.9],
[693,1.4,2.2,"_.1 I.1 L.2 F.25 C.2 Y.85",.8],
[694,.8,1.3,"_.2 L.15 I.15 R.2 E.35",.8],
[695,2.05,2.7,"_.15 L.25 Y.55 F1.45",1],
[833,.72,1.25,"_.2 I.1 T.15 F.2 E.35",.85],
[834,.6,1.1,"_.2 I.1 T.12 F.18 E.25",.8],
[835,.55,1.2,"_.2 L.1 I.15 T.15 S.2",.14],
[836,.5,1.25,"_.2 L.1 I.1 N.15 K.2",.12],
[837,.55,1.2,"_.2 T.1 I.15 E.15 S.2",.15],
[838,.5,1.3,"_.2 L.1 I.15 E.2 K.2",.12],
[839,.55,1.2,"_.2 I.1 T.15 N.15 S.15",.16],
[840,.7,1.25,"_.15 L.1 T.15 F.25 E.35",.7],
[841,.4,.75,"_.15 T.1 I.1 E.2",.7],
[842,.28,.62,"_.15 I.1 E.2",.6],
[843,.15,.45,"_.2 I.1",.3],
[844,.22,.55,"_.2 T.08 I.1",.4],
[845,.25,.58,"_.2 E.1 I.1",.4],
[846,.3,.62,"_.2 T.12 I.13",.4],
[847,.35,.72,"_.2 L.1 I.1 E.15",.45],
[848,.4,.78,"_.2 T.1 I.15 E.15",.35],
[849,.4,.8,"_.2 L.12 I.13 T.15",.3],
[850,.42,.95,"_.2 I.15 T.15 S.15",.2],
[851,.45,1.35,"_.3 E.2 T.2 K.2",.06],
[852,.5,1.65,"_.3 T.2 I.2 S.3",.05]];

// Blank columns from position 553 onward: top and bottom of the error bar, read column by column.
const blankStart = 553;
const blankHi = [
2.41,2.41,2.41,2.41,2.41,2.51,2.43,2.43,
2.45,2.4,2.42,2.42,2.45,2.4,2.48,2.4,2.45,2.42,2.4,2.42,2.4,2.45,2.42,2.4,2.5,2.42,2.38,2.45,2.4,2.42,2.35,2.4,2.48,2.4,2.42,2.65,2.45,2.42,2.4,2.45,2.4,2.48,2.5,2.4,2.42,2.4,2.38,2.45,2.42,2.55,2.6,2.45,2.8,2.5,2.48,2.6,2.5,2.45,2.55,2.42,2.5,2.45,2.55,2.4,2.48,2.42,2.4,2.45,2.42,2.5,2.42,2.4,2.45,2.42,2.48,2.42,2.5,2.42,2.45,2.4,2.48,2.42,2.45,2.6,2.42,2.45,2.6,2.4,
2.35,2.4,2.3,2.33,2.28,2.35,2.3,2.38,2.42,2.35,2.3,2.35,2.38,2.4,2.32,2.3,2.38,2.35,2.3,2.35,2.4,2.33,2.3,0,0,2.38,2.33,2.4,2.45,2.38,2.32,2.3,2.38,2.4,2.42,2.35,2.3,2.38,2.55,2.38,2.35,2.3,2.38,2.5,2.4,2.32,2.35,2.3,2.38,2.35,2.32,2.4,0,0,0,2.8,2.45,2.38,2.4,2.35,2.42,2.38,2.35,2.4,2.42,2.38,2.35,2.4,2.38,2.35,2.42,2.4,2.38,2.4,2.42,2.38,2.35,2.4,2.42,2.38,
2.55,2.6,2.95,2.45,2.4,2.42,2.4,2.38,2.42,2.35,2.4,2.42,2.4,2.45,2.38,2.42,2.4,2.38,2.45,2.42,2.4,2.55,2.4,2.42,2.45,2.4,2.42,2.38,2.4,2.42,2.45,2.4,2.38,2.4,2.42,2.45,2.4,2.42,2.38,2.42,2.5,2.4,2.42,2.38,2.4,2.45,2.42,2.4,2.38,2.42,2.45,2.4,2.42,2.4,2.38,2.42,2.85,2.45,2.4,2.42,2.4,2.45,2.38,2.42,2.4,2.38,2.42,2.4,2.45,2.38,2.35,2.4,2.42,2.38,2.4,2.35,2.3,2.38,2.35,2.55,
2.3,2.7,2.4,2.35,2.32,2.45,2.38,2.35,2.42,2.45,2.35,2.4,2.38,2.65,2.4,2.35,2.42,2.38,2.35,2.4,2.5,2.38,2.35,2.42,2.55,2.4,2.35,2.42,2.38,2.35,2.3,2.38,0,0,0,0,0,0,0,0,0,0,0,0,0,0,0,0,0,0,0,0,2.05,2.2,2.0,1.9,2.0,2.1,2.05,2.2,2.1,2.0,2.3,2.1,2.4,2.2,2.25,2.4,2.3,2.6,2.65,2.5,2.55,2.3,2.4,2.35,2.25,2.4,2.25,2.45,
2.2,2.35,2.4,2.4,2.35,2.2,2.6,2.35,2.3,2.2,2.35,2.1,2.2,2.55,2.95,2.25,2.2,2.3,2.4,2.5,2.3,2.3,2.2,2.4,2.45,2.3,2.2,2.25,2.45,2.3,2.5,2.25,2.2,2.3,2.6,2.35,2.25,2.65,2.3,2.3,2.45,2.2,2.35,2.4,2.5,2.4,2.3,2.3,2.35,2.25,2.6,2.35,2.2,2.3,2.4,2.3,2.3,2.25,2.45,2.35,2.3,2.3,2.4,2.2,2.35,2.3,2.95,2.4,2.3,2.5,2.3,2.55,2.3,2.45,2.3,2.2,2.4,2.25,2.3,2.25,
2.25,2.2,2.2,2.45,2.4,2.45,2.55,2.4,2.5,2.3,2.15,2.25,2.55,2.5,2.45,2.3,2.75,2.3,2.4,2.45,2.25,2.35,2.4,2.5,2.55,2.35,2.45,2.45,2.35,2.4,2.55,2.3,2.35,2.75,2.4,2.45,2.3,2.35,2.5,2.4,2.55,2.4,2.45,2.35,2.6,2.3,2.65,2.4,2.5,2.3,2.6,2.4,2.45,2.35,2.45,2.4,2.4,2.45,2.4,2.45];
const blankLo = [
.62,.62,.62,.62,.55,.76,.66,.66,
.7,.58,.65,.65,.7,.55,.72,.62,.7,.65,.68,.62,.6,.7,.65,.6,.72,.65,.58,.68,.62,.65,.55,.6,.7,.62,.65,.8,.7,.65,.6,.68,.62,.7,.72,.6,.62,.6,.58,.7,.65,.75,.8,.65,.9,.72,.7,.8,.72,.68,.78,.62,.72,.68,.75,.6,.7,.62,.6,.68,.62,.72,.65,.6,.68,.65,.7,.62,.72,.65,.68,.6,.7,.62,.68,.78,.62,.68,.8,.6,
.58,.6,.55,.58,.5,.58,.55,.6,.65,.58,.52,.58,.6,.62,.55,.5,.6,.58,.52,.58,.62,.55,.5,0,0,.6,.55,.62,.68,.6,.55,.5,.6,.62,.65,.58,.52,.6,.75,.6,.58,.52,.6,.7,.62,.55,.58,.52,.6,.58,.55,.62,0,0,0,.8,.65,.6,.62,.58,.65,.6,.58,.62,.65,.6,.58,.62,.6,.58,.65,.62,.6,.62,.65,.6,.58,.62,.65,.6,
.72,.75,.85,.65,.6,.62,.6,.58,.62,.55,.6,.62,.6,.65,.58,.62,.6,.58,.65,.62,.6,.72,.6,.62,.65,.6,.62,.58,.6,.62,.65,.6,.58,.6,.62,.65,.6,.62,.58,.62,.7,.6,.62,.58,.6,.65,.62,.6,.58,.62,.65,.6,.62,.6,.58,.62,.85,.65,.6,.62,.6,.65,.58,.62,.6,.58,.62,.6,.65,.58,.55,.6,.62,.58,.6,.55,.5,.58,.55,.72,
.55,.72,.62,.58,.55,.65,.6,.58,.62,.65,.58,.6,.6,.8,.62,.58,.62,.6,.58,.62,.7,.6,.58,.62,.72,.62,.58,.62,.6,.58,.52,.6,0,0,0,0,0,0,0,0,0,0,0,0,0,0,0,0,0,0,0,0,.48,.5,.45,.42,.45,.5,.48,.55,.5,.45,.6,.5,.65,.55,.58,.62,.6,.72,.75,.68,.7,.6,.62,.58,.55,.62,.55,.65,
.6,.68,.7,.68,.65,.6,.82,.65,.62,.55,.65,.5,.55,.78,.95,.62,.58,.62,.7,.75,.62,.62,.55,.68,.7,.62,.55,.58,.72,.62,.75,.58,.55,.62,.8,.65,.58,.82,.62,.62,.7,.55,.65,.68,.72,.68,.62,.62,.65,.58,.8,.65,.55,.62,.68,.62,.62,.58,.7,.65,.62,.62,.68,.55,.65,.62,1,.68,.62,.75,.62,.78,.62,.7,.62,.55,.68,.58,.62,.58,
.68,.62,.6,.75,.7,.72,.82,.68,.72,.62,.55,.6,.75,.72,.7,.62,.85,.62,.68,.7,.6,.65,.68,.72,.75,.65,.7,.7,.62,.68,.78,.62,.65,.85,.68,.7,.62,.65,.72,.68,.78,.65,.7,.62,.78,.62,.8,.65,.72,.6,.78,.65,.7,.62,.7,.6,.65,.7,.65,.7];

// Small red (cysteine) slivers inside very narrow columns.
const redMarks = [[4,.55,.8],[15,.8,1.03],[20,.06,.2],[164,.5,.6],[167,.1,.2],[605,.7,.9],[696,.6,1.1],[777,.7,1.2],[895,.8,1],[948,.85,1.05],[967,.6,.8]];
// Squashed wide letters that look like flat lines: [fromPosition, toPosition, bits].
const flatLines = [[50,52,.42],[58,60,.35],[116,118,.32],[184,186,.2],[216,218,.56],[263,265,.15],[279,281,.35],[333,335,.41],[377,378,.41],[383,388,.49],[403,406,.3],[457,464,.17],[490,491,.08],[517,546,.37],[517,546,.33]];

const rowStarts = [1,81,161,241,321,401,481,561,641,721,801,881,961];
const rowEnds = [80,160,240,320,400,480,560,640,720,800,880,960,1020];
const yTicks = d3.range(0,22).map(d=>d/5);
const yMajor = [0,1,2,3,4];
const yAxisTop = 4.34;
const axisLabel = "bits";
const footer = "WebLogo 3.7.12";

// layout
const W=3758,H=3833, X0=156, STEP=45, Y0=249.3, PITCH=291.6, BIT=51.8, LW=39.5, PAGE_TOP=15;
const SANS='"Liberation Sans", Arial, sans-serif', MONO='"Liberation Mono", monospace';

const svg=d3.select('#chart').append('svg').attr('width',W).attr('height',H).attr('viewBox',[0,0,W,H]);
svg.append('rect').attr('width',W).attr('height',H).attr('fill','#fff');

// glyph metrics, so each letter fills its exact box
const cv=document.createElement('canvas').getContext('2d');
const glyphCache={};
function glyph(ch){
  if(glyphCache[ch])return glyphCache[ch];
  const fam=ch==='I'?MONO:SANS;
  cv.font='100px '+fam;
  const m=cv.measureText(ch);
  return glyphCache[ch]={fam,l:-m.actualBoundingBoxLeft,r:m.actualBoundingBoxRight,a:m.actualBoundingBoxAscent,d:m.actualBoundingBoxDescent};
}
function parseStack(s){
  return s.trim().split(/\s+/).filter(Boolean).map(t=>({ch:t[0],v:parseFloat(t.slice(1))}));
}

// gather all columns
const cols=new Map();
[row1Cols,row2Cols,row3Cols,row4Cols,row5Cols,row6Cols,row7Cols,lowCols].forEach(a=>a.forEach(c=>{
  cols.set(c[0],{pos:c[0],lo:c[1],hi:c[2],stack:parseStack(c[3]),w:c[4]});
}));
thinA.forEach(c=>{ if(!cols.has(c[0])) cols.set(c[0],{pos:c[0],lo:c[1],hi:c[2],stack:null,w:.03}); });
blankHi.forEach((hi,i)=>{
  const p=blankStart+i;
  if(hi>0 && !cols.has(p)) cols.set(p,{pos:p,lo:blankLo[i],hi,stack:null,w:.03});
});

const greyBar='#bebebe';
rowStarts.forEach((start,ri)=>{
  const end=rowEnds[ri];
  const base=Y0+ri*PITCH;
  const x=d3.scaleLinear().domain([start,start+79]).range([X0,X0+79*STEP]);
  const y=d3.scaleLinear().domain([0,4]).range([base,base-4*BIT]);
  const g=svg.append('g');
  const rowCols=d3.range(start,end+1).map(p=>cols.get(p)).filter(Boolean);

  // stacks
  const gl=g.append('g');
  rowCols.forEach(c=>{
    const cx=x(c.pos);
    if(!c.stack){
      gl.append('rect').attr('x',cx-.7).attr('width',1.4)
        .attr('y',y((c.lo+c.hi)/2)).attr('height',y(.04)-y((c.lo+c.hi)/2)).attr('fill','#000');
      return;
    }
    let cum=0;
    const bw=LW*c.w;
    c.stack.forEach(s=>{
      const h=y(cum)-y(cum+s.v);
      const bottom=y(cum);
      cum+=s.v;
      if(s.ch==='_')return;
      const gm=glyph(s.ch);
      const sx=bw/(gm.r-gm.l), sy=h/(gm.a+gm.d);
      gl.append('text').text(s.ch)
        .attr('font-family',gm.fam).attr('font-size',100)
        .attr('fill',s.ch==='C'?'#ff0000':'#000')
        .attr('transform',`translate(${cx-bw/2-gm.l*sx},${bottom-gm.d*sy}) scale(${sx},${sy})`);
    });
  });
  // red slivers
  gl.selectAll('rect.red').data(redMarks.filter(d=>d[0]>=start&&d[0]<=end)).join('rect')
    .attr('class','red').attr('x',d=>x(d[0])-.9).attr('width',1.8)
    .attr('y',d=>y(d[2])).attr('height',d=>y(d[1])-y(d[2])).attr('fill','#f00');
  // flat squashed letters
  gl.selectAll('line.flat').data(flatLines.filter(d=>d[0]>=start&&d[1]<=end)).join('line')
    .attr('class','flat').attr('x1',d=>x(d[0])-10).attr('x2',d=>x(d[1])+10)
    .attr('y1',d=>y(d[2])).attr('y2',d=>y(d[2])).attr('stroke','#000').attr('stroke-width',1.6);

  // error bars
  const ge=g.append('g').attr('stroke',greyBar).attr('fill','none');
  rowCols.forEach(c=>{
    const cx=x(c.pos)+.5, yl=y(c.lo), yh=y(c.hi), ym=(yl+yh)/2, gap=c.stack?2.5:3.8;
    ge.append('line').attr('x1',cx).attr('x2',cx).attr('y1',yh).attr('y2',ym-gap).attr('stroke-width',2.6);
    ge.append('line').attr('x1',cx).attr('x2',cx).attr('y1',ym+gap).attr('y2',yl).attr('stroke-width',2.6);
    ge.append('line').attr('x1',cx-5.5).attr('x2',cx+5.5).attr('y1',yh).attr('y2',yh).attr('stroke-width',3);
    ge.append('line').attr('x1',cx-5.5).attr('x2',cx+5.5).attr('y1',yl).attr('y2',yl).attr('stroke-width',3);
  });

  // y axis
  const yScaleAxis=g.append('g').attr('transform',`translate(132,0)`);
  yScaleAxis.call(d3.axisLeft(y).tickValues(yTicks).tickSize(11.5).tickFormat(''));
  yScaleAxis.selectAll('.tick line').attr('stroke','#000').attr('stroke-width',2.6);
  yScaleAxis.select('.domain').remove();
  const yMaj=g.append('g').attr('transform',`translate(132,0)`);
  yMaj.call(d3.axisLeft(y).tickValues(yMajor).tickSize(22).tickPadding(3).tickFormat(d3.format('.1f')));
  yMaj.select('.domain').remove();
  yMaj.selectAll('.tick line').attr('stroke','#000').attr('stroke-width',2.6);
  yMaj.selectAll('.tick text').attr('font-family',SANS).attr('font-size',32).attr('fill','#000').attr('dy','.36em');
  g.append('line').attr('x1',132).attr('x2',132).attr('y1',y(0)+1.6).attr('y2',y(yAxisTop)).attr('stroke','#000').attr('stroke-width',2.8);

  // x axis
  const xEnd=x(end)+22.5;
  const xMin=g.append('g').attr('transform',`translate(0,${base})`);
  xMin.call(d3.axisBottom(x).tickValues(d3.range(start,end+1)).tickSize(7).tickFormat(''));
  xMin.select('.domain').remove();
  xMin.selectAll('.tick line').attr('stroke','#000').attr('stroke-width',2.4);
  const xMaj=g.append('g').attr('transform',`translate(0,${base})`);
  xMaj.call(d3.axisBottom(x).tickValues(d3.range(start,end+1).filter(d=>d%5===0)).tickSize(11.5).tickPadding(0).tickFormat(d3.format('d')));
  xMaj.select('.domain').remove();
  xMaj.selectAll('.tick line').attr('stroke','#000').attr('stroke-width',2.4);
  xMaj.selectAll('.tick text').attr('font-family',SANS).attr('font-size',32).attr('fill','#000')
    .attr('y',44.3).attr('dy',0).attr('text-anchor','middle');
  g.append('line').attr('x1',110).attr('x2',xEnd).attr('y1',base).attr('y2',base).attr('stroke','#000').attr('stroke-width',3.4);

  // label
  g.append('text').text(axisLabel).attr('font-family',SANS).attr('font-size',40).attr('fill','#000')
    .attr('text-anchor','middle').attr('transform',`translate(50,${y(2.16)}) rotate(-90)`);
});
svg.append('text').text(footer).attr('font-family',SANS).attr('font-size',25).attr('fill','#000')
  .attr('text-anchor','end').attr('x',3733).attr('y',3825);
// the reference cuts everything off flat along its top margin
svg.append('rect').attr('x',0).attr('y',0).attr('width',W).attr('height',PAGE_TOP).attr('fill','#fff');
</script></body></html>
